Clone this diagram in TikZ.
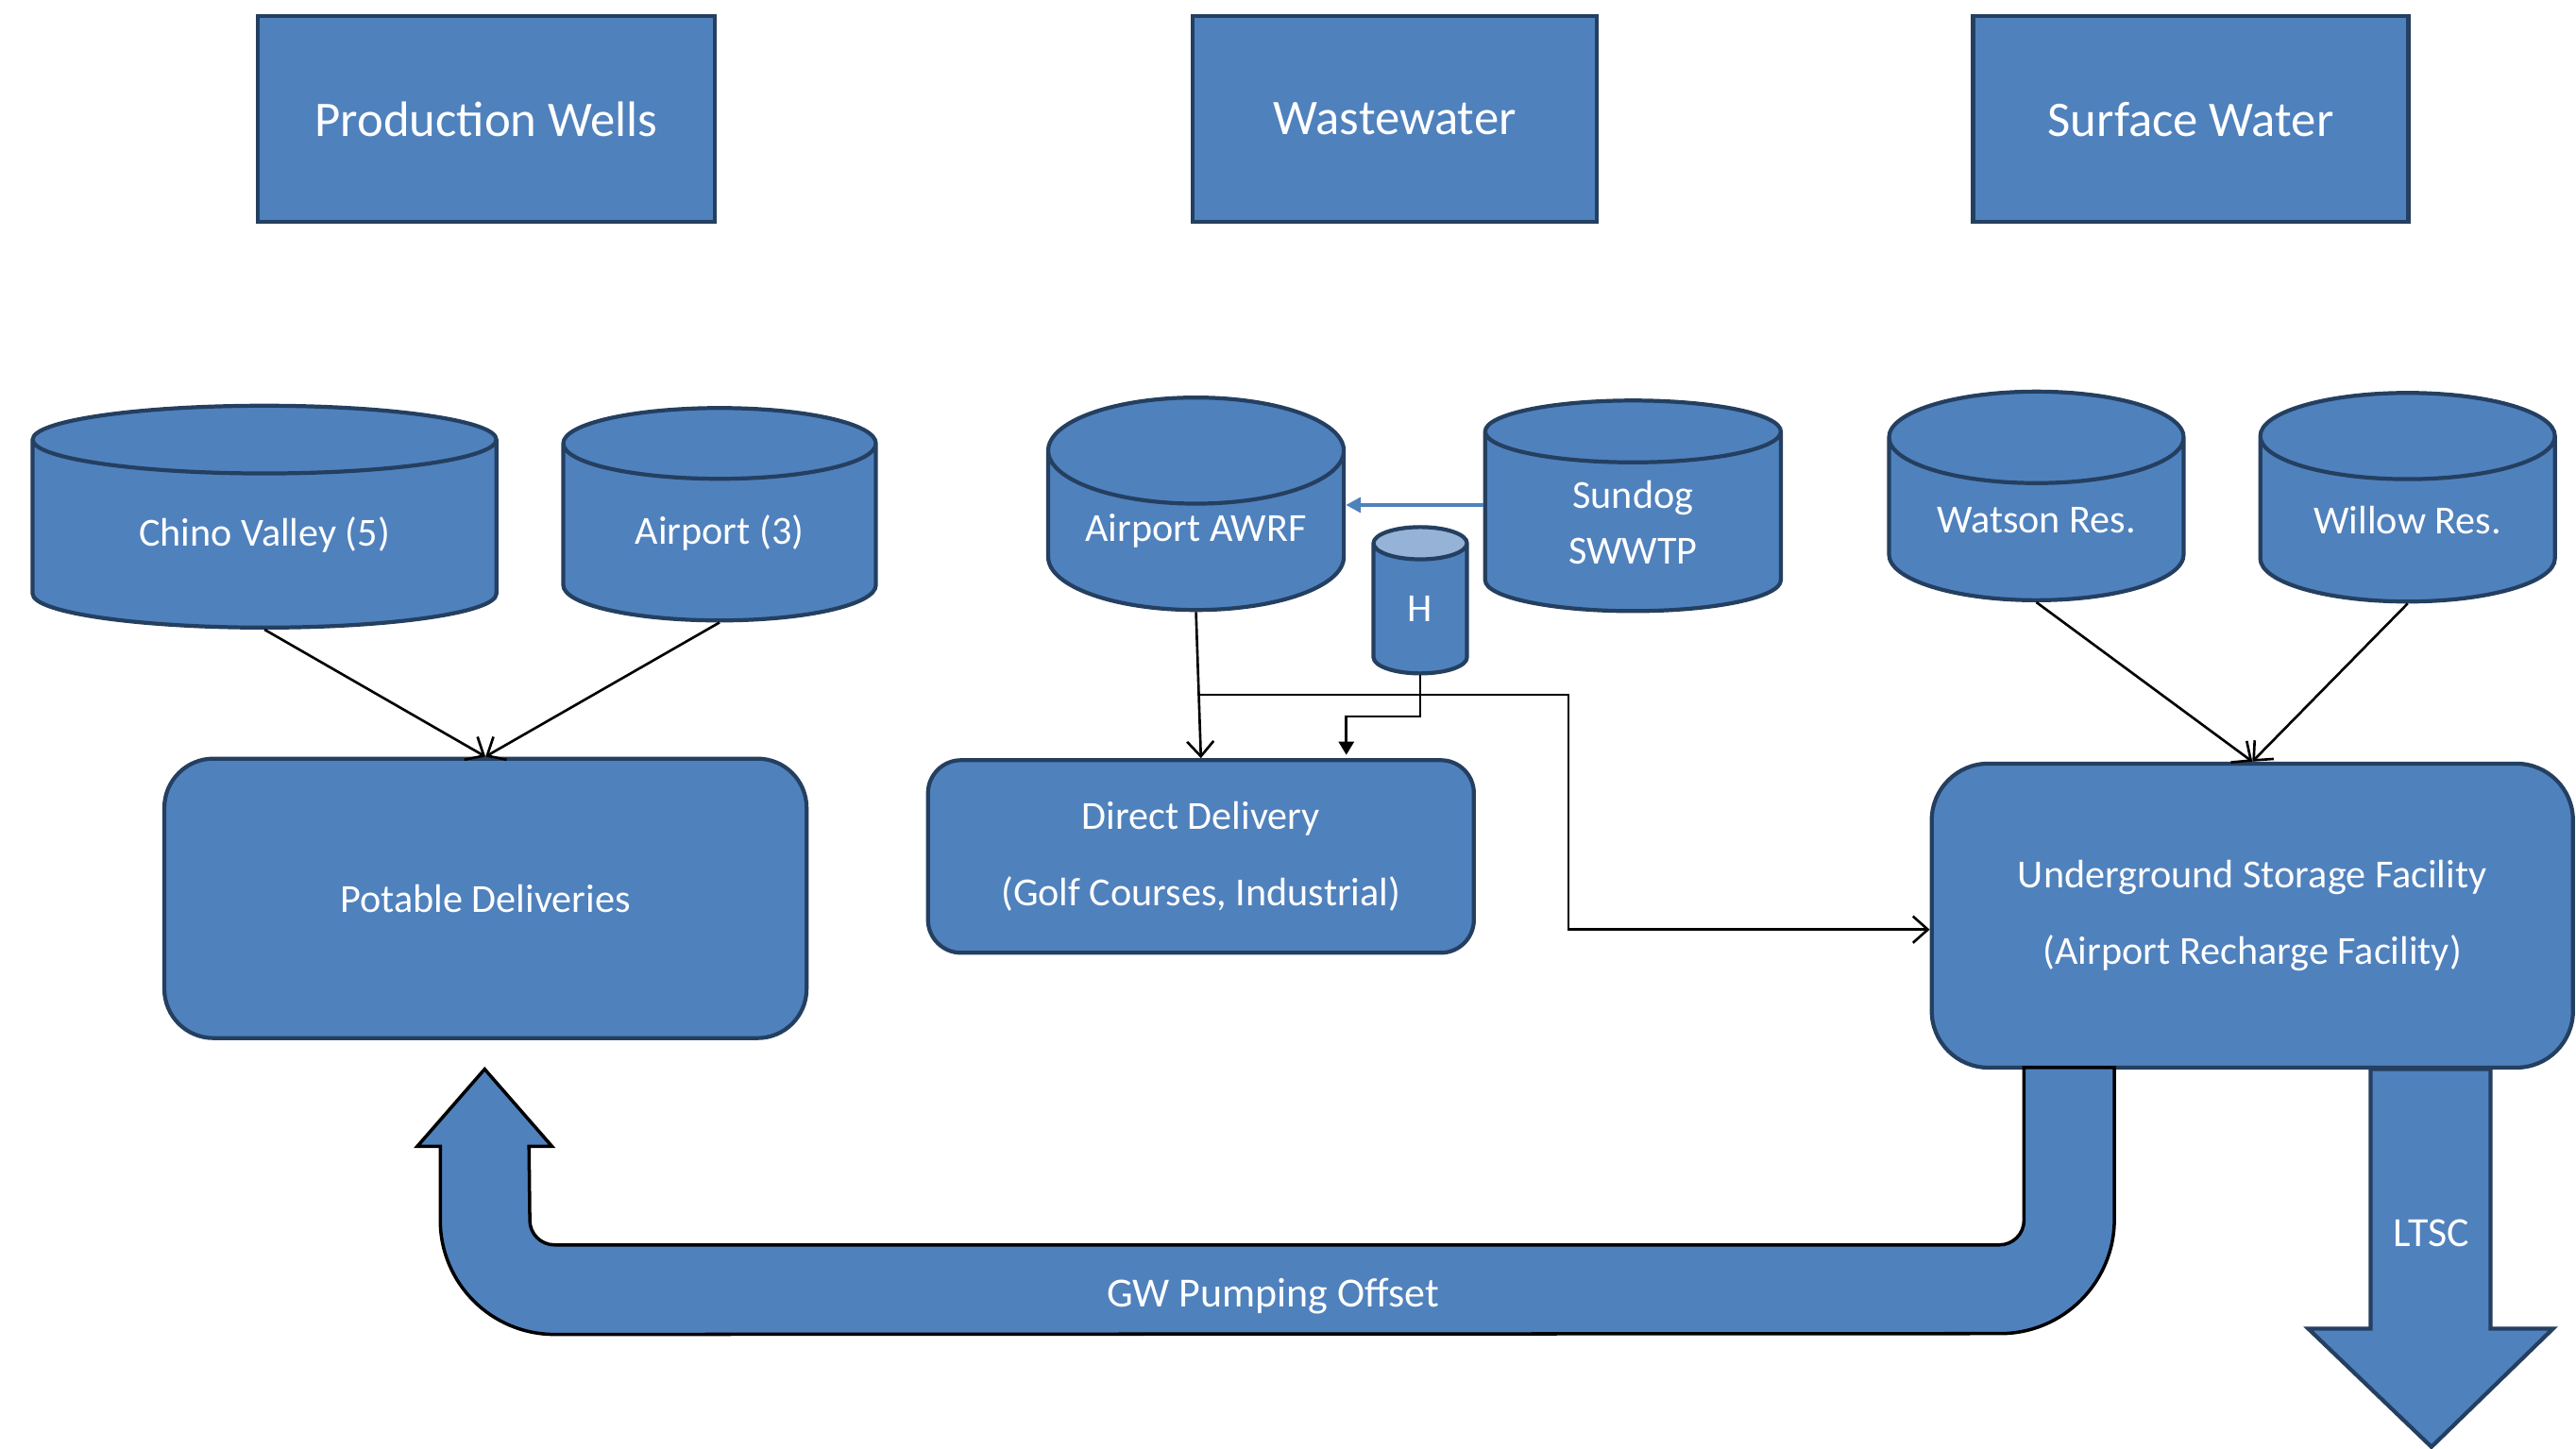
\documentclass[tikz,border=0pt]{standalone}
\usepackage{fontspec}
\setmainfont{Carlito}
\usepackage{tikz}
\usetikzlibrary{arrows.meta,shapes.geometric,calc}
\definecolor{boxblue}{HTML}{4F81BD}
\definecolor{boxline}{HTML}{243F60}
\definecolor{capblue}{HTML}{95B3D7}

\begin{document}
\begin{tikzpicture}[x=0.0174cm, y=-0.0174cm]
    \tikzstyle{source} = [rectangle, draw=boxline, line width=1.2pt, fill=boxblue, text=white, font=\fontsize{15}{18}\selectfont, inner sep=0pt]
    \tikzstyle{tank} = [cylinder, shape border rotate=90, draw=boxline, line width=1.2pt, fill=boxblue, text=white, font=\fontsize{12}{16.8}\selectfont, inner sep=0pt, align=center]
    \tikzstyle{block} = [rectangle, draw=boxline, line width=1.2pt, fill=boxblue, text=white, font=\fontsize{12}{22.8}\selectfont, inner sep=0pt, align=center]
    \tikzstyle{arrow} = [line width=0.75pt, -{Straight Barb[length=4.5pt,width=8pt]}]
    \tikzstyle{bigarrow} = [line width=1pt, fill=boxblue]
    \tikzstyle{label} = [text=white, font=\fontsize{12.5}{15}\selectfont]

    \useasboundingbox (0,0) rectangle (1568,882);

    % water sources
    \node [source, minimum width=4.84cm, minimum height=2.18cm] (wells) at (296,72.5) {Production Wells};
    \node [source, minimum width=4.28cm, minimum height=2.18cm] (waste) at (849,72.5) {Wastewater};
    \node [source, minimum width=4.61cm, minimum height=2.18cm] (surface) at (1333.5,72.5) {Surface Water};

    \node [tank, minimum width=4.91cm, minimum height=2.35cm, aspect=0.27] (chino) at (161,325.5) {Chino Valley (5)};
    \node [tank, minimum width=3.31cm, minimum height=2.25cm, aspect=0.42] (airport) at (438,324.5) {Airport (3)};
    \node [tank, minimum width=3.13cm, minimum height=2.25cm, aspect=0.48] (awrf) at (728,323.5) {Airport AWRF};
    \node [tank, minimum width=3.13cm, minimum height=2.23cm, aspect=0.48] (sundog) at (994,318) {Sundog\\SWWTP};
    \node [tank, minimum width=0.99cm, minimum height=1.55cm, aspect=1.3, fill=none, cylinder uses custom fill, cylinder body fill=boxblue, cylinder end fill=capblue] (hold) at (864.5,371) {H};
    \node [tank, minimum width=3.12cm, minimum height=2.21cm, aspect=0.46] (watson) at (1239.5,316.5) {Watson Res.};
    \node [tank, minimum width=3.12cm, minimum height=2.21cm, aspect=0.46] (willow) at (1465.5,316.5) {Willow Res.};

    % deliveries
    \node [block, rounded corners=0.52cm, minimum width=6.8cm, minimum height=2.96cm] (potable) at (295.5,547) {Potable Deliveries};
    \node [block, rounded corners=0.35cm, minimum width=5.78cm, minimum height=2.04cm] (direct) at (731,521.5) {Direct Delivery\\(Golf Courses, Industrial)};
    \node [block, rounded corners=0.6cm, minimum width=6.79cm, minimum height=3.22cm] (usf) at (1371,557.5) {Underground Storage Facility\\(Airport Recharge Facility)};

    \draw [arrow] (chino.south) -- (potable.north);
    \draw [arrow] (airport.south) -- (potable.north);
    \draw [arrow] (awrf.south) -- (direct.north);
    \coordinate (split) at ($(awrf.south)!0.566!(direct.north)$);
    \coordinate (usfin) at ($(usf.west)+(0,8.5)$);
    \draw [arrow] (split) -- ++(225,0) |- (usfin);
    \coordinate (holdin) at ($(direct.north)+(88.5,-2)$);
    \draw [line width=0.75pt, -{Triangle[length=4pt,width=4.6pt]}] (hold.south) -- ++(0,25) -| (holdin);
    \draw [boxblue, line width=1.2pt, -{Triangle[length=4.5pt,width=4.5pt]}] ($(sundog.west)+(0,-10.5)$) coordinate (sw) -- (sw -| awrf.east);
    \draw [arrow] (watson.south) -- (usf.north);
    \draw [arrow] (willow.south) -- (usf.north);

    % pumping offset and LTSC
    \draw [bigarrow, draw=black] (1232,650) -- (1232,743) arc[start angle=0, end angle=-90, radius=0.261cm] -- (337.5,758) arc[start angle=270, end angle=180, radius=0.261cm] -- (322,698) -- (336,698) -- (295,651) -- (254,698) -- (268,698) -- (268,743) arc[start angle=180, end angle=270, radius=1.209cm] -- (1217.5,812) arc[start angle=270, end angle=360, radius=1.209cm] -- (1287,650) -- cycle;
    \node [label] (offset) at (775,789) {GW Pumping Offset};
    \draw [bigarrow, draw=boxline, line width=1.2pt] (1443,651) -- (1443,809) -- (1405,809) -- (1480,881) -- (1554,809) -- (1516,809) -- (1516,651) -- cycle;
    \node [label] (ltsc) at (1480,751) {LTSC};
\end{tikzpicture}
\end{document}
